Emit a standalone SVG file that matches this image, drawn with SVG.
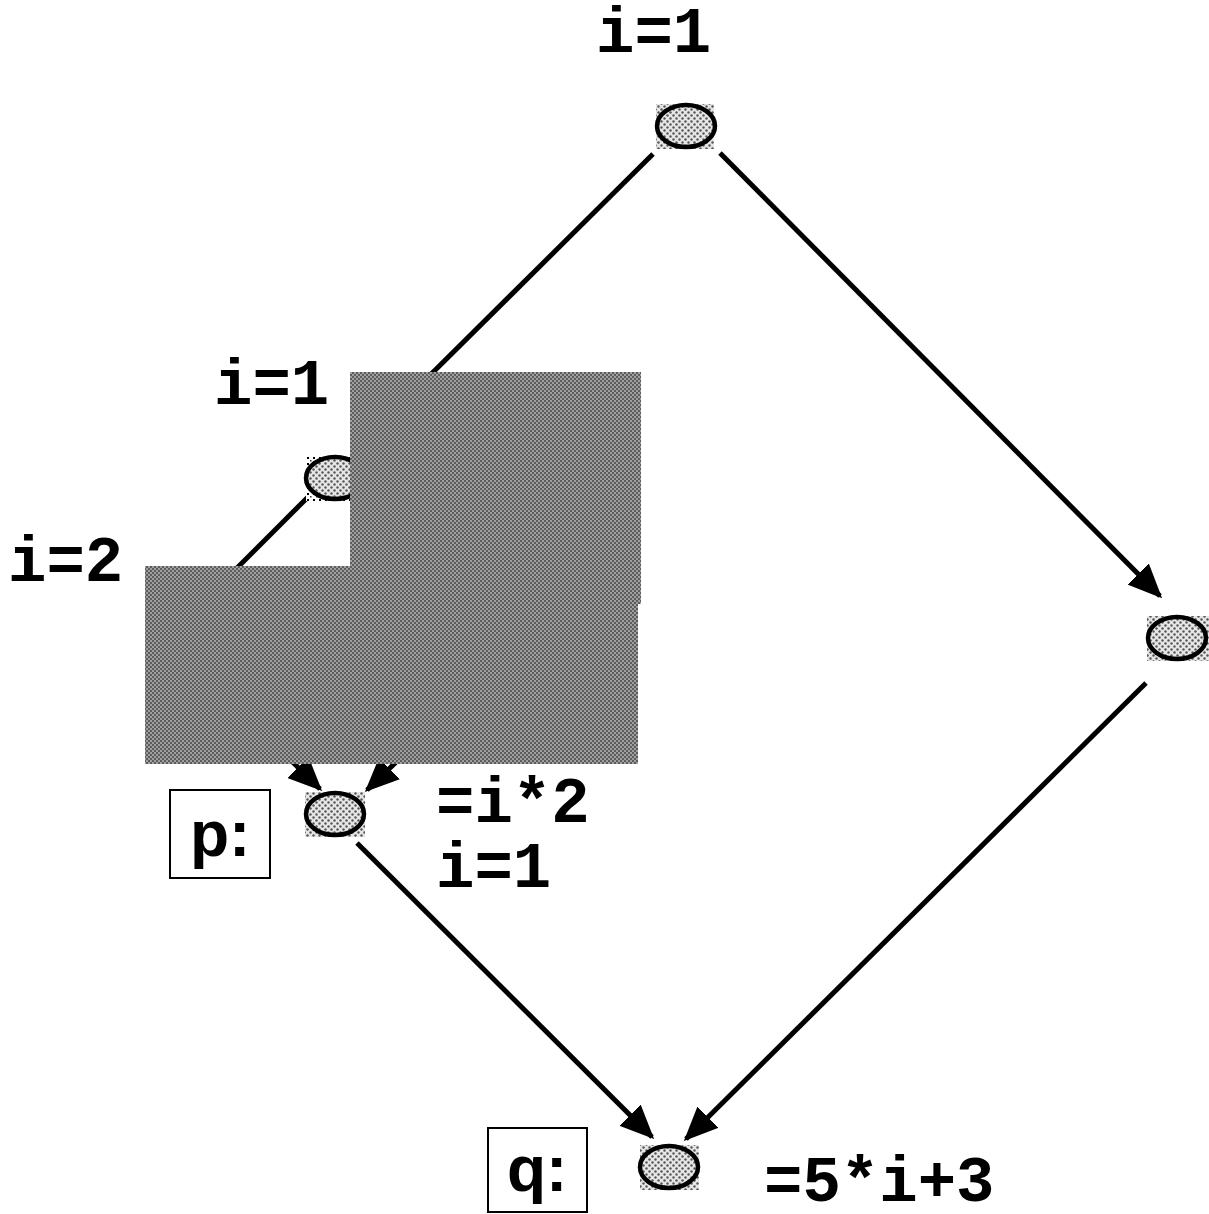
<svg xmlns="http://www.w3.org/2000/svg" width="1209" height="1214" viewBox="0 0 1209 1214">
  <defs>
    <!-- fine checker used for the two grey blocks -->
    <pattern id="checker" width="4" height="4" patternUnits="userSpaceOnUse">
      <rect width="4" height="4" fill="#a0a0a0"/>
      <rect width="2" height="2" fill="#5c5c5c"/>
      <rect x="2" y="2" width="2" height="2" fill="#5c5c5c"/>
    </pattern>
    <!-- stipple behind and inside the nodes -->
    <pattern id="stipple" width="6" height="6" patternUnits="userSpaceOnUse">
      <rect width="6" height="6" fill="#e6e6e6"/>
      <circle cx="1.5" cy="1.5" r="1.2" fill="#555"/>
      <circle cx="4.5" cy="4.5" r="1.2" fill="#555"/>
    </pattern>
    <pattern id="stippleCoarse" width="6" height="6" patternUnits="userSpaceOnUse">
      <rect width="6" height="6" fill="#ffffff"/>
      <rect x="1" y="1" width="2" height="2" fill="#000"/>
      <rect x="4" y="4" width="1.5" height="1.5" fill="#333"/>
    </pattern>
    <marker id="arrow" markerUnits="userSpaceOnUse" markerWidth="34" markerHeight="30" refX="31" refY="15" orient="auto">
      <path d="M0,0 L34,15 L0,30 Z" fill="#000"/>
    </marker>
  </defs>
  <style>
    .edge { stroke: #000; stroke-width: 5; fill: none; }
    .node { stroke: #000; stroke-width: 4.5; fill: url(#stipple); }
    .halo { fill: url(#stipple); }
    .lbl { font-family: "Liberation Mono", "Courier New", monospace; font-weight: bold; font-size: 64px; fill: #000; }
    .tag { font-family: "Liberation Sans", Arial, sans-serif; font-weight: bold; font-size: 64px; fill: #000; }
    .tagbox { fill: #fff; stroke: #000; stroke-width: 2; }
  </style>

  <rect width="1209" height="1214" fill="#fff"/>

  <!-- connectors -->
  <g id="connectors">
    <line class="edge" x1="720" y1="153" x2="1160" y2="596" marker-end="url(#arrow)"/>
    <line class="edge" x1="653" y1="154" x2="400" y2="405"/>
    <line class="edge" x1="308" y1="497" x2="200" y2="605"/>
    <line class="edge" x1="250" y1="720" x2="320" y2="789" marker-end="url(#arrow)"/>
    <line class="edge" x1="440" y1="720" x2="367" y2="790" marker-end="url(#arrow)"/>
    <line class="edge" x1="357" y1="843" x2="652" y2="1137" marker-end="url(#arrow)"/>
    <line class="edge" x1="1146" y1="683" x2="686" y2="1139" marker-end="url(#arrow)"/>
  </g>

  <!-- nodes -->
  <g id="node-top">
    <rect class="halo" x="656" y="104" width="58" height="45"/>
    <ellipse class="node" cx="686" cy="126" rx="29" ry="21"/>
    <text class="lbl" x="596" y="52">i=1</text>
  </g>

  <g id="node-left">
    <rect x="306" y="456" width="50" height="45" fill="url(#stippleCoarse)"/>
    <ellipse class="node" cx="335" cy="478" rx="29" ry="21" fill="url(#stippleCoarse)"/>
    <text class="lbl" x="214" y="404">i=1</text>
  </g>

  <g id="node-i2">
    <text class="lbl" x="8" y="581">i=2</text>
  </g>

  <g id="node-right">
    <rect class="halo" x="1147" y="616" width="62" height="45"/>
    <ellipse class="node" cx="1177" cy="638" rx="29" ry="21"/>
  </g>

  <g id="node-p">
    <rect class="halo" x="305" y="792" width="60" height="45"/>
    <ellipse class="node" cx="335" cy="814" rx="29" ry="21"/>
    <rect class="tagbox" x="170" y="790" width="100" height="88"/>
    <text class="tag" x="190" y="856">p:</text>
    <text class="lbl" x="436" y="822">=i*2</text>
    <text class="lbl" x="436" y="887">i=1</text>
  </g>

  <g id="node-q">
    <rect class="halo" x="640" y="1145" width="59" height="45"/>
    <ellipse class="node" cx="669" cy="1167" rx="29" ry="21"/>
    <rect class="tagbox" x="488" y="1128" width="99" height="84"/>
    <text class="tag" x="507" y="1191">q:</text>
    <text class="lbl" x="764" y="1201">=5*i+3</text>
  </g>

  <!-- grey blocks laid over the left part of the graph -->
  <g id="blocks">
    <rect x="350" y="372" width="291" height="232" fill="url(#checker)"/>
    <rect x="145" y="566" width="493" height="198" fill="url(#checker)"/>
  </g>
</svg>
